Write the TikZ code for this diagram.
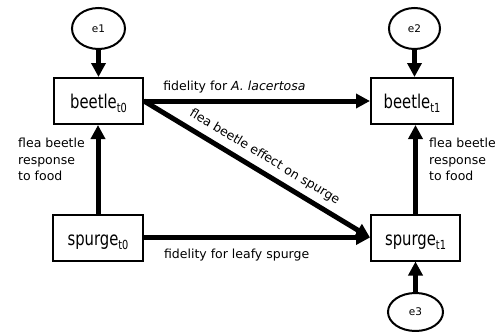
\documentclass[tikz,border=0pt]{standalone}
\usepackage{fontspec}
\setmainfont{DejaVu Sans}
\newfontfamily\boxfont[FakeStretch=0.78]{DejaVu Sans}
\usetikzlibrary{arrows.meta,shapes.geometric}
\newcommand{\sub}[1]{\raisebox{-0.2em}{\fontsize{12.5}{12.5}\selectfont #1}}
\begin{document}
\begin{tikzpicture}[x=1pt,y=-1pt,
  var/.style={draw,line width=2pt,minimum height=46pt,inner sep=0pt,
    text height=15.5pt,text depth=0pt,font=\boxfont\fontsize{19}{19}\selectfont},
  err/.style={draw,ellipse,line width=2pt,inner sep=0pt,
    font=\fontsize{10.5}{10.5}\selectfont},
  path/.style={line width=5pt,-{Triangle[length=14pt,width=14pt]}},
  lbl/.style={font=\fontsize{12.5}{16.5}\selectfont,inner sep=0pt}
]
\useasboundingbox (0,0) rectangle (501,332);

% observed variables
\node[var,minimum width=89pt] (b0) at (98.5,101) {beetle\sub{t0}};
\node[var,minimum width=82pt] (b1) at (412,101) {beetle\sub{t1}};
\node[var,minimum width=90pt] (s0) at (98,237.5) {spurge\sub{t0}};
\node[var,minimum width=89pt] (s1) at (415.5,237.5) {spurge\sub{t1}};

% error terms
\node[err,minimum width=53pt,minimum height=41pt] (e1) at (98.5,28.5) {e1};
\node[err,minimum width=51pt,minimum height=41pt] (e2) at (414.5,28.5) {e2};
\node[err,minimum width=55pt,minimum height=38pt] (e3) at (415.5,312) {e3};

% paths
\draw[path] (e1.south) -- (e1.south |- b0.north);
\draw[path] (e2.south) -- (e2.south |- b1.north);
\draw[path] (e3.north) -- (e3.north |- s1.south);

\draw[path] (b0.east) -- node[lbl,above=5.7pt,pos=0.40]
  {fidelity for \textit{A. lacertosa}} (b1.west);
\draw[path] (s0.east) -- node[lbl,below=9.5pt,pos=0.41]
  {fidelity for leafy spurge} (s1.west);
\draw[path] (b0.east) -- node[lbl,sloped,above=6pt,midway]
  {flea beetle effect on spurge} (s1.west);

\draw[path] (s0.north) -- (s0.north |- b0.south);
\draw[path] (s1.north) -- (s1.north |- b1.south);

% path labels beside the vertical arrows
\node[lbl,align=left,anchor=north west] (ll) at (18,138)
  {flea beetle\\response\\to food};
\node[lbl,align=left,anchor=north west] (lr) at (429,138)
  {flea beetle\\response\\to food};
\end{tikzpicture}
\end{document}
